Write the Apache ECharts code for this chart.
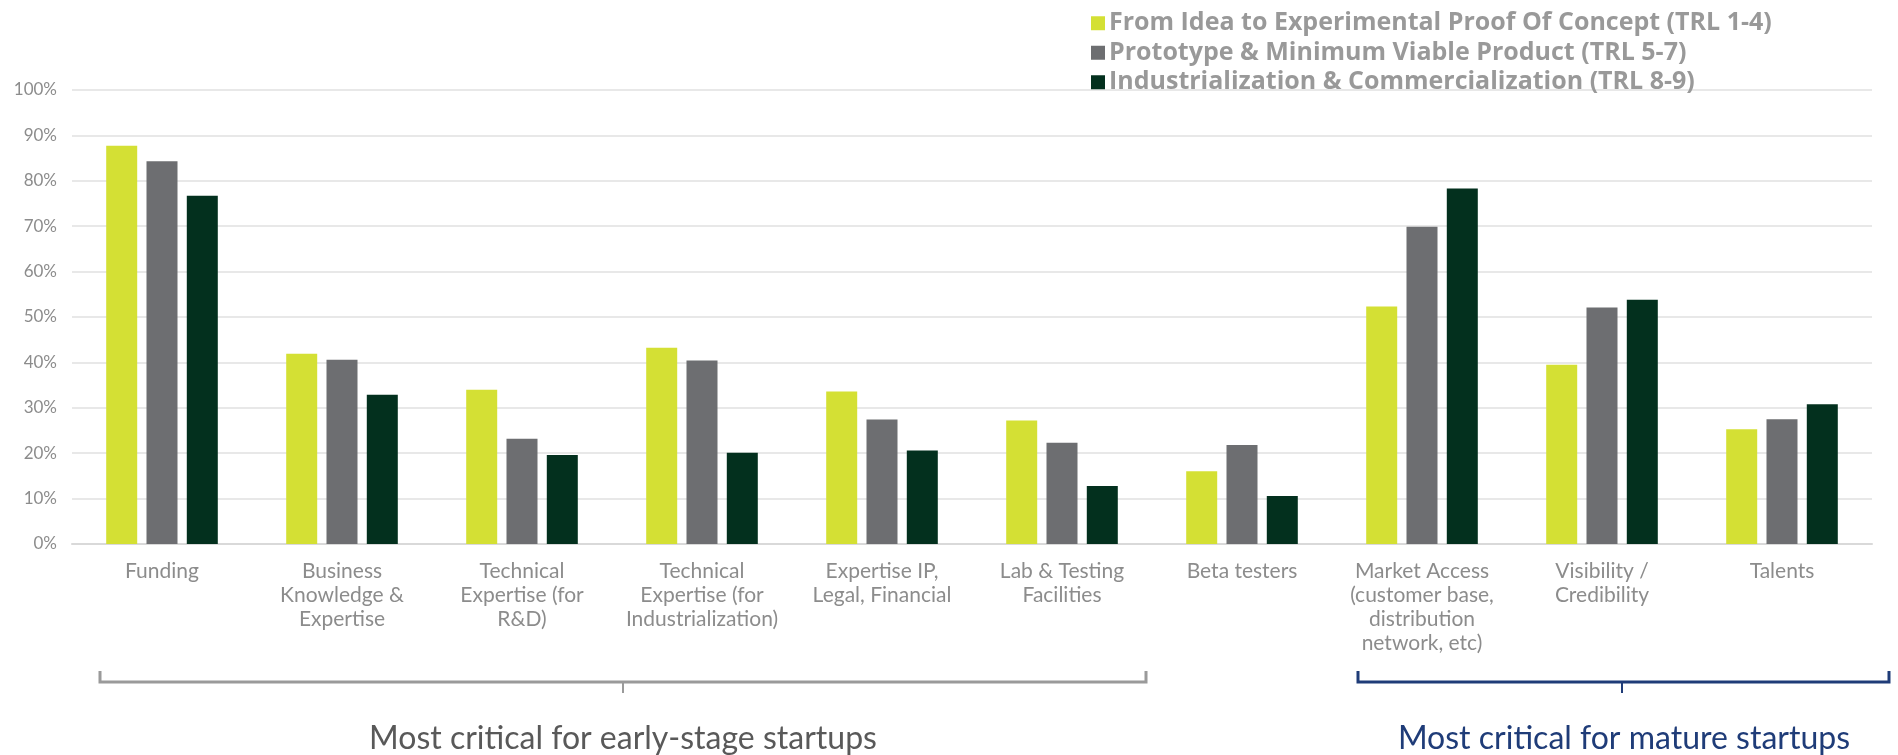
<!DOCTYPE html>
<html>
<head>
<meta charset="utf-8">
<script src="https://cdn.jsdelivr.net/npm/echarts@6/dist/echarts.min.js"></script>
<style>
html,body{margin:0;padding:0;background:#fff;}
#chart{width:1898px;height:755px;}
</style>
</head>
<body>
<div id="chart"></div>
<script>
const categories = [
  'Funding',
  'Business\nKnowledge &\nExpertise',
  'Technical\nExpertise (for\nR&D)',
  'Technical\nExpertise (for\nIndustrialization)',
  'Expertise IP,\nLegal, Financial',
  'Lab & Testing\nFacilities',
  'Beta testers',
  'Market Access\n(customer base,\ndistribution\nnetwork, etc)',
  'Visibility /\nCredibility',
  'Talents'
];
const seriesNames = [
  'From Idea to Experimental Proof Of Concept (TRL 1-4)',
  'Prototype & Minimum Viable Product (TRL 5-7)',
  'Industrialization & Commercialization (TRL 8-9)'
];
const trl14 = [87.7, 41.9, 34.0, 43.2, 33.6, 27.2, 16.0, 52.3, 39.5, 25.3];
const trl57 = [84.3, 40.6, 23.2, 40.4, 27.4, 22.3, 21.8, 69.9, 52.1, 27.5];
const trl89 = [76.7, 32.9, 19.6, 20.1, 20.6, 12.8, 10.6, 78.3, 53.8, 30.8];
const yTicks = {min: 0, max: 100, interval: 10};
const colors = ['#d4e034', '#6d6e71', '#03301e'];
const groupLabels = ['Most critical for early-stage startups', 'Most critical for mature startups'];

const chart = echarts.init(document.getElementById('chart'));
const FONT = 'Lato';
const mk = (name, data, i) => ({
  name, type: 'bar', data, barWidth: 31, barGap: '30%',
  itemStyle: {color: colors[i]}
});
chart.setOption({
  animation: false,
  textStyle: {fontFamily: FONT},
  legend: {
    orient: 'vertical', left: 1086, top: 4, itemGap: 1,
    icon: 'rect', itemWidth: 14, itemHeight: 14,
    selectedMode: false,
    textStyle: {fontFamily: 'Open Sans', fontSize: 25, fontWeight: 'bold', color: '#999999', lineHeight: 28.5, padding: [0,0,0,-1]},
    data: seriesNames
  },
  grid: {left: 72, right: 26, top: 90, bottom: 211},
  xAxis: {
    type: 'category', data: categories,
    axisTick: {show: false},
    axisLine: {lineStyle: {color: '#d9d9d9', width: 2}},
    axisLabel: {interval: 0, margin: 15, color: '#8c8c8c', fontSize: 21, lineHeight: 24, fontFamily: FONT}
  },
  yAxis: {
    type: 'value', min: yTicks.min, max: yTicks.max, interval: yTicks.interval,
    axisLine: {show: false}, axisTick: {show: false},
    axisLabel: {formatter: '{value}%', color: '#8c8c8c', fontSize: 17, margin: 15, fontFamily: FONT},
    splitLine: {lineStyle: {color: '#e8e8e8', width: 2}}
  },
  series: [mk(seriesNames[0], trl14, 0), mk(seriesNames[1], trl57, 1), mk(seriesNames[2], trl89, 2)],
  graphic: [
    {type: 'polyline', shape: {points: [[100,671],[100,682],[1146,682],[1146,671]]}, style: {stroke: '#9a9a9a', lineWidth: 3, fill: null}},
    {type: 'line', shape: {x1: 623, y1: 682, x2: 623, y2: 693}, style: {stroke: '#9a9a9a', lineWidth: 2}},
    {type: 'polyline', shape: {points: [[1358,671],[1358,682],[1889,682],[1889,671]]}, style: {stroke: '#1f3c78', lineWidth: 3, fill: null}},
    {type: 'line', shape: {x1: 1622, y1: 682, x2: 1622, y2: 693}, style: {stroke: '#1f3c78', lineWidth: 2}},
    {type: 'text', x: 623, y: 739, style: {text: groupLabels[0], fill: '#595959', font: '32px Lato', textAlign: 'center', textVerticalAlign: 'middle'}},
    {type: 'text', x: 1624, y: 739, style: {text: groupLabels[1], fill: '#1f3c78', font: '32px Lato', textAlign: 'center', textVerticalAlign: 'middle'}}
  ]
});
</script>
</body>
</html>
